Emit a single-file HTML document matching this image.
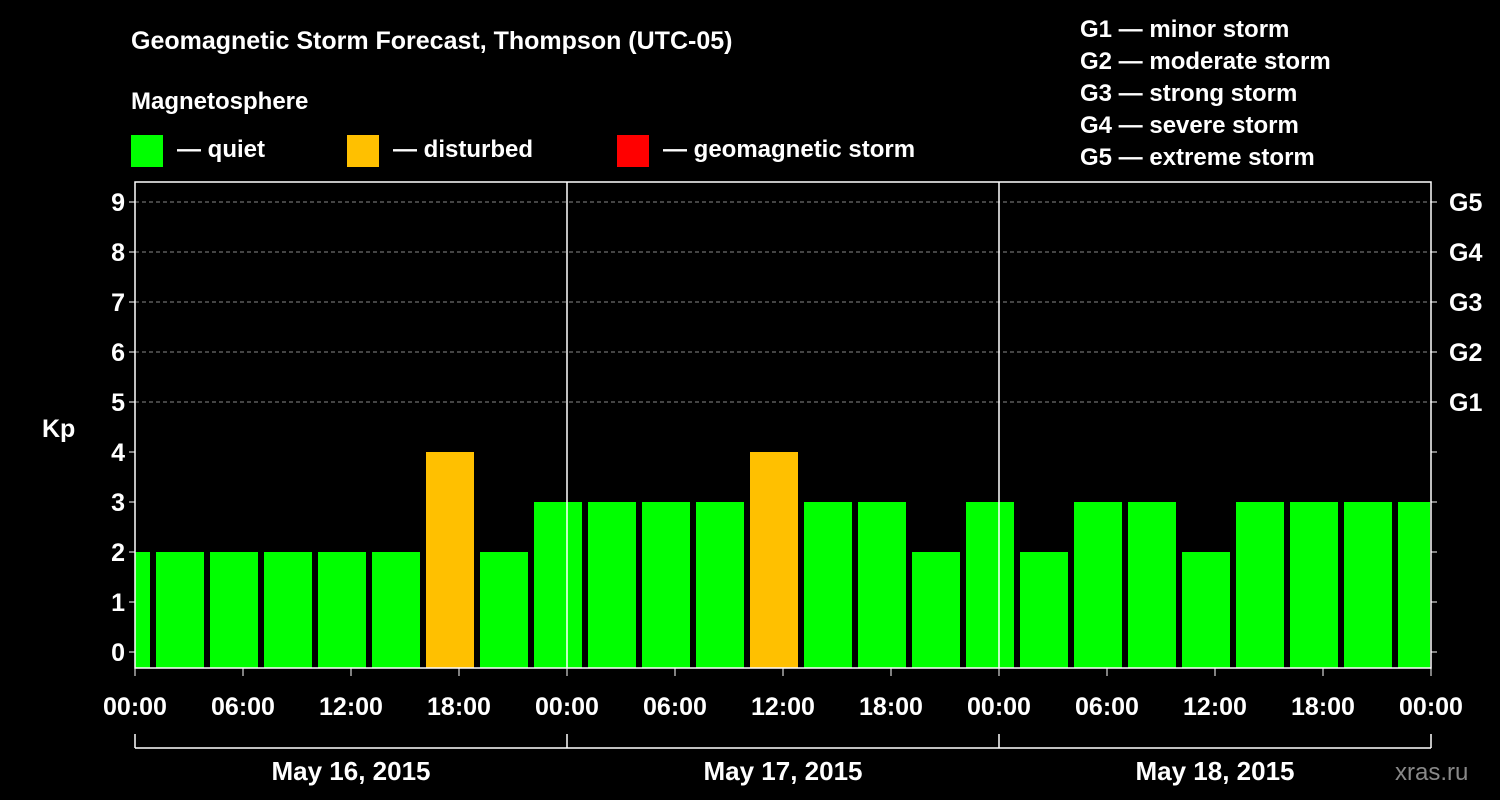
<!DOCTYPE html>
<html><head><meta charset="utf-8"><style>
body{margin:0;background:#000;}
svg{display:block;font-family:"Liberation Sans",Arial,sans-serif;font-weight:bold;}
</style></head><body>
<svg id="chart" width="1500" height="800" viewBox="0 0 1500 800">
<rect x="0" y="0" width="1500" height="800" fill="#000"/>
<text x="131" y="49" fill="#fff" font-size="25">Geomagnetic Storm Forecast, Thompson (UTC-05)</text>
<text x="131" y="109" fill="#fff" font-size="24">Magnetosphere</text>
<rect x="131" y="135" width="32" height="32" fill="#00ff00"/>
<text x="177" y="157" fill="#fff" font-size="24">— quiet</text>
<rect x="347" y="135" width="32" height="32" fill="#ffc000"/>
<text x="393" y="157" fill="#fff" font-size="24">— disturbed</text>
<rect x="617" y="135" width="32" height="32" fill="#ff0000"/>
<text x="663" y="157" fill="#fff" font-size="24">— geomagnetic storm</text>
<g fill="#fff" font-size="24">
<text x="1080" y="37">G1 — minor storm</text>
<text x="1080" y="69">G2 — moderate storm</text>
<text x="1080" y="101">G3 — strong storm</text>
<text x="1080" y="133">G4 — severe storm</text>
<text x="1080" y="165">G5 — extreme storm</text>
</g>
<text x="42" y="437" fill="#fff" font-size="25">Kp</text>
<text x="1395" y="780" fill="#888" font-size="24" font-weight="normal">xras.ru</text>
<g id="grid"></g><g id="bars"></g><g id="axes"></g>
</svg>
<script>
const kpValues=[2,2,2,2,2,2,4,2,3,3,3,3,4,3,3,2,3,2,3,3,2,3,3,3,3];
const kpTicks=[0,1,2,3,4,5,6,7,8,9];
const gLabels=["G1","G2","G3","G4","G5"];
const timeLabels=["00:00","06:00","12:00","18:00","00:00","06:00","12:00","18:00","00:00","06:00","12:00","18:00","00:00"];
const dayLabels=["May 16, 2015","May 17, 2015","May 18, 2015"];
const NS="http://www.w3.org/2000/svg";
const X0=135,X1=1431,YTOP=182,YBOT=668;
const hourPx=(X1-X0)/72;
function xs(h){return X0+h*hourPx;}
function ys(k){return 652-k*50;}
function mk(tag,attrs,parent){const e=document.createElementNS(NS,tag);for(const k in attrs)e.setAttribute(k,attrs[k]);parent.appendChild(e);return e;}
const grid=document.getElementById('grid'),bars=document.getElementById('bars'),axes=document.getElementById('axes');
kpTicks.forEach(k=>{if(k>=5){const l=mk('line',{x1:X0,x2:X1,y1:ys(k),y2:ys(k),stroke:'#888','stroke-dasharray':'4,3','stroke-width':1},grid);

}});
kpValues.forEach((v,i)=>{
 const start=-2+3*i;let a=xs(start)+3,b=xs(start+3)-3;
 a=Math.max(a,X0);b=Math.min(b,X1-1);
 const col=v>=5?'#ff0000':(v>=4?'#ffc000':'#00ff00');
 const r=mk('rect',{x:a,y:ys(v),width:b-a,height:YBOT-ys(v),fill:col},bars);
 
 
});
mk('rect',{x:X0,y:YTOP,width:X1-X0,height:YBOT-YTOP,fill:'none',stroke:'#fff','stroke-width':1.5},axes);
[1,2].forEach(d=>{mk('line',{x1:xs(24*d),x2:xs(24*d),y1:YTOP,y2:YBOT,stroke:'#fff','stroke-width':1.5},axes);});
kpTicks.forEach((k,i)=>{
 mk('line',{x1:X0-6,x2:X0,y1:ys(k),y2:ys(k),stroke:'#fff'},axes);
 mk('line',{x1:X1,x2:X1+6,y1:ys(k),y2:ys(k),stroke:'#fff'},axes);
 const t=mk('text',{x:X0-10,y:ys(k)+9,fill:'#fff','font-size':25,'text-anchor':'end'},axes);t.textContent=k;
 
 
 if(k>=5){const g=mk('text',{x:X1+18,y:ys(k)+9,fill:'#fff','font-size':25},axes);g.textContent=gLabels[k-5];
 
 }
});
timeLabels.forEach((s,i)=>{
 const x=xs(i*6);
 mk('line',{x1:x,x2:x,y1:YBOT,y2:YBOT+8,stroke:'#fff'},axes);
 const t=mk('text',{x:x,y:715,fill:'#fff','font-size':25,'text-anchor':'middle'},axes);t.textContent=s;
 
 
});
mk('line',{x1:X0,x2:X1,y1:748,y2:748,stroke:'#fff','stroke-width':1.5},axes);
[0,1,2,3].forEach(d=>mk('line',{x1:xs(24*d),x2:xs(24*d),y1:734,y2:748,stroke:'#fff','stroke-width':1.5},axes));
dayLabels.forEach((s,i)=>{
 const t=mk('text',{x:xs(24*i+12),y:780,fill:'#fff','font-size':26,'text-anchor':'middle'},axes);t.textContent=s;
 
 
});
</script>
</body></html>
